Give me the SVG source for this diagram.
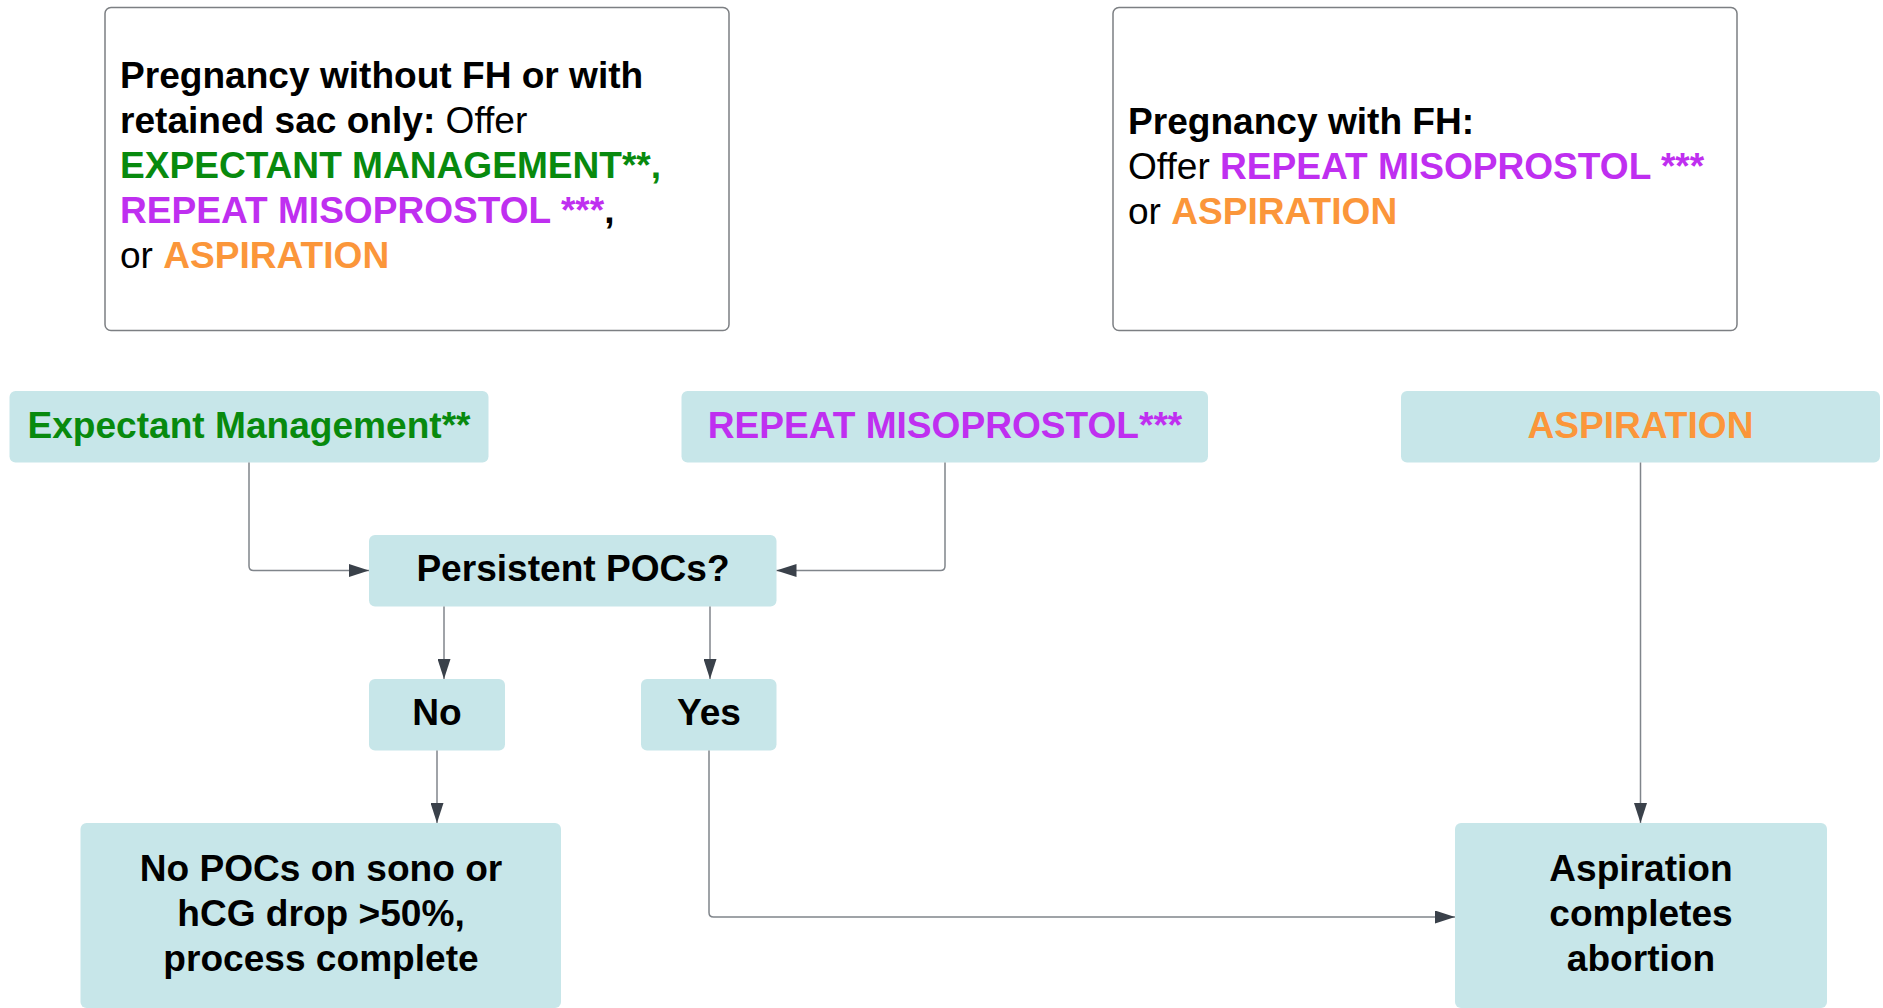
<svg xmlns="http://www.w3.org/2000/svg" width="1883" height="1008" viewBox="0 0 1883 1008">
<defs>
<style>
text{font-family:"Liberation Sans",Arial,sans-serif;font-size:37.1px;fill:#000}
.b{font-weight:bold}
.g{fill:#088a0e;font-weight:bold}
.p{fill:#bf2ff0;font-weight:bold}
.o{fill:#fb963a;font-weight:bold}
.note{fill:#fff;stroke:#7c7f83;stroke-width:1.5}
.box{fill:#c7e6e9}
.c{fill:none;stroke:#80858b;stroke-width:1.5}
.mid{text-anchor:middle;font-weight:bold}
</style>
<marker id="ah" viewBox="0 0 20 13" refX="20" refY="6.5" markerWidth="20" markerHeight="13" markerUnits="userSpaceOnUse" orient="auto">
<path d="M0,0 L20,6.5 L0,13 Z" fill="#3a414a"/>
</marker>
</defs>
<rect width="1883" height="1008" fill="#fff"/>
<g id="note1">
<rect class="note" x="105" y="7.5" width="624" height="323" rx="6"/>
<text x="120" y="88"><tspan class="b">Pregnancy without FH or with</tspan></text>
<text x="120" y="133"><tspan class="b">retained sac only:</tspan> Offer</text>
<text x="120" y="178"><tspan class="g">EXPECTANT MANAGEMENT**,</tspan></text>
<text x="120" y="223"><tspan class="p">REPEAT MISOPROSTOL ***</tspan><tspan class="b">,</tspan></text>
<text x="120" y="268">or <tspan class="o">ASPIRATION</tspan></text>
</g>
<g id="note2">
<rect class="note" x="1113" y="7.5" width="624" height="323" rx="6"/>
<text x="1128" y="134"><tspan class="b">Pregnancy with FH:</tspan></text>
<text x="1128" y="179">Offer <tspan class="p">REPEAT MISOPROSTOL ***</tspan></text>
<text x="1128" y="224">or <tspan class="o">ASPIRATION</tspan></text>
</g>
<g id="expectant">
<rect class="box" x="9.5" y="391" width="479" height="71.5" rx="6"/>
<text class="mid g" x="249" y="438">Expectant Management**</text>
</g>
<g id="repeat">
<rect class="box" x="681.5" y="391" width="526.5" height="71.5" rx="6"/>
<text class="mid p" x="945" y="438">REPEAT MISOPROSTOL***</text>
</g>
<g id="aspiration">
<rect class="box" x="1401" y="391" width="479" height="71.5" rx="6"/>
<text class="mid o" x="1640.5" y="438">ASPIRATION</text>
</g>
<g id="persistent">
<rect class="box" x="369" y="535" width="407.5" height="71.5" rx="6"/>
<text class="mid" x="573" y="581">Persistent POCs?</text>
</g>
<g id="no">
<rect class="box" x="369" y="679" width="136" height="71.5" rx="6"/>
<text class="mid" x="437" y="725">No</text>
</g>
<g id="yes">
<rect class="box" x="641" y="679" width="135.5" height="71.5" rx="6"/>
<text class="mid" x="709" y="725">Yes</text>
</g>
<g id="complete">
<rect class="box" x="80.5" y="823" width="480.5" height="185" rx="6"/>
<text class="mid" x="321" y="881">No POCs on sono or</text>
<text class="mid" x="321" y="926">hCG drop &gt;50%,</text>
<text class="mid" x="321" y="971">process complete</text>
</g>
<g id="aspcomplete">
<rect class="box" x="1455" y="823" width="372" height="185" rx="6"/>
<text class="mid" x="1641" y="881">Aspiration</text>
<text class="mid" x="1641" y="926">completes</text>
<text class="mid" x="1641" y="971">abortion</text>
</g>
<g id="connectors">
<path class="c" d="M249,462.5 V566 Q249,570.5 253.5,570.5 H369" marker-end="url(#ah)"/>
<path class="c" d="M945,462.5 V566 Q945,570.5 940.5,570.5 H776.5" marker-end="url(#ah)"/>
<path class="c" d="M1640.5,462.5 V823" marker-end="url(#ah)"/>
<path class="c" d="M444,606.5 V679" marker-end="url(#ah)"/>
<path class="c" d="M710,606.5 V679" marker-end="url(#ah)"/>
<path class="c" d="M437,750.5 V823" marker-end="url(#ah)"/>
<path class="c" d="M709,750.5 V912.5 Q709,917 713.5,917 H1455" marker-end="url(#ah)"/>
</g>
</svg>
